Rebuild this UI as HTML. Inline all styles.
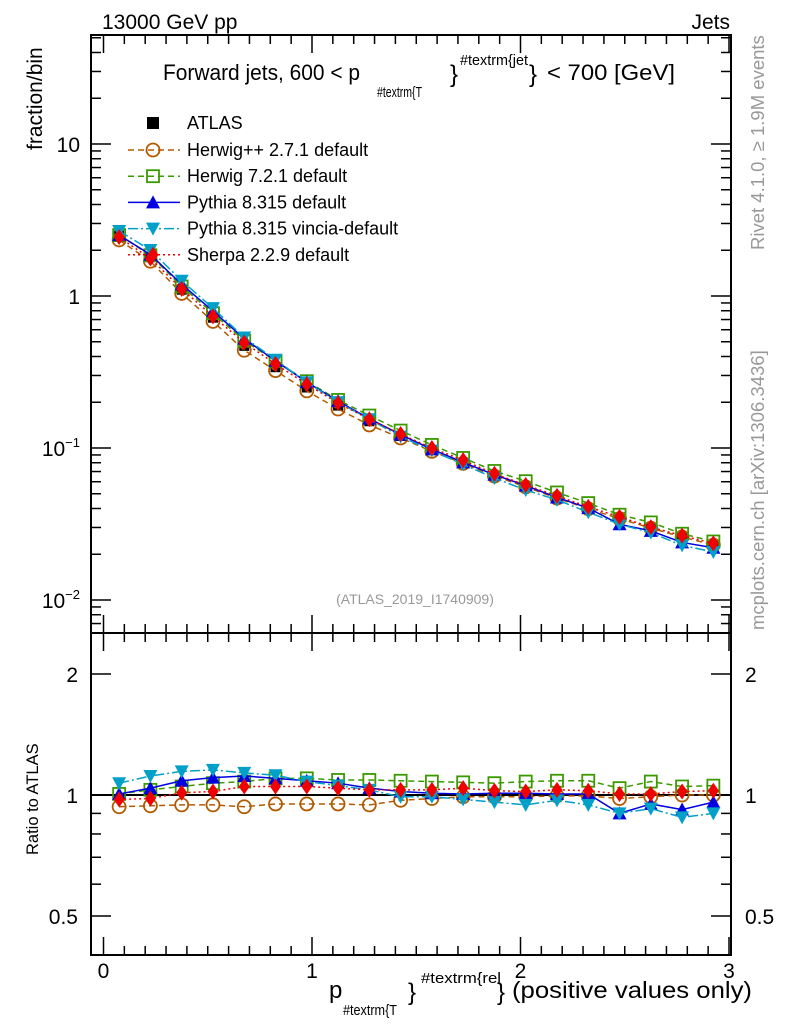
<!DOCTYPE html>
<html><head><meta charset="utf-8">
<style>
body{margin:0;background:#fff;}
svg{display:block;font-family:"Liberation Sans",sans-serif;}
</style></head>
<body>
<svg id="chart" width="786" height="1024" viewBox="0 0 786 1024" xmlns="http://www.w3.org/2000/svg">
<g id="g"></g>
</svg>
<script>
const xCenters=[0.075,0.225,0.375,0.525,0.675,0.825,0.975,1.125,1.275,1.425,1.575,1.725,1.875,2.025,2.175,2.325,2.475,2.625,2.775,2.925];
const atlasVals=[2.5,1.8,1.1,0.72,0.47,0.34,0.25,0.19,0.15,0.12,0.097,0.08,0.066,0.056,0.047,0.040,0.035,0.030,0.026,0.023];
const herwigppRatio=[0.935,0.94,0.945,0.945,0.935,0.95,0.95,0.95,0.945,0.97,0.98,0.99,0.99,0.99,0.995,0.995,0.98,0.99,1.0,1.0];
const herwig7Ratio=[1.006,1.03,1.05,1.07,1.08,1.10,1.10,1.09,1.09,1.085,1.08,1.075,1.07,1.08,1.085,1.085,1.04,1.08,1.05,1.055];
const pythiaRatio=[1.006,1.04,1.085,1.105,1.115,1.10,1.085,1.07,1.04,1.02,1.01,1.006,1.01,1.01,1.006,1.006,0.90,0.95,0.92,0.96];
const vinciaRatio=[1.07,1.115,1.145,1.155,1.135,1.12,1.08,1.055,1.03,0.99,0.99,0.975,0.96,0.945,0.97,0.945,0.90,0.925,0.88,0.90];
const sherpaRatio=[0.975,0.98,1.013,1.02,1.05,1.05,1.05,1.04,1.03,1.03,1.03,1.04,1.025,1.02,1.03,1.025,1.006,1.006,1.02,1.025];
const xTicks=[0,1,2,3];
const yMainTicks=[10,1,0.1,0.01];
const yRatioTicks=[0.5,1,2];

const NS="http://www.w3.org/2000/svg";
const g=document.getElementById('g');
function el(t,a,parent){const e=document.createElementNS(NS,t);for(const k in a)e.setAttribute(k,a[k]);(parent||g).appendChild(e);return e;}
const L=91,R=731,MT=35,MB=633,RT=633,RB=955;
const X=v=>103.5+v*208.5;
const Y=v=>144-(Math.log10(v)-1)*152;
const YR=v=>795-Math.log10(v)*402;

let f=el('rect',{x:L,y:MT,width:R-L,height:MB-MT,fill:'none',stroke:'#000','stroke-width':2});

f=el('rect',{x:L,y:RT,width:R-L,height:RB-RT,fill:'none',stroke:'#000','stroke-width':2});


for(let v=0;v<=3.001;v+=0.1){
  const major=Math.abs(v-Math.round(v))<1e-6;const len=major?18:9;const x=X(v);
  for(const [y0,dir] of [[MB,-1],[MT,1],[RB,-1],[RT,1]]) el('line',{x1:x,x2:x,y1:y0,y2:y0+dir*len,stroke:'#000','stroke-width':1.5});
}
xTicks.forEach(v=>{const t=el('text',{x:X(v),y:978,'font-size':21,'text-anchor':'middle'});t.textContent=v;
});

for(let d=-3;d<=1;d++)for(let m=1;m<=9;m++){const v=m*Math.pow(10,d);const y=Y(v);if(y<MT||y>MB)continue;
  const len=m===1?20:10;
  el('line',{x1:L,x2:L+len,y1:y,y2:y,stroke:'#000','stroke-width':1.5});
  el('line',{x1:R,x2:R-len,y1:y,y2:y,stroke:'#000','stroke-width':1.5});}
const yl={10:'10',1:'1',0.1:'10<tspan font-size="13" dy="-9">−1</tspan>',0.01:'10<tspan font-size="13" dy="-9">−2</tspan>'};
yMainTicks.forEach(v=>{const t=el('text',{x:80,y:Y(v)+8,'font-size':21,'text-anchor':'end'});t.innerHTML=yl[v];
});
for(let d=-1;d<=0;d++)for(let m=1;m<=9;m++){const v=m*Math.pow(10,d);const y=YR(v);if(y<RT||y>RB)continue;
  const len=(v===0.5||v===1||v===2)?20:10;
  el('line',{x1:L,x2:L+len,y1:y,y2:y,stroke:'#000','stroke-width':1.5});
  el('line',{x1:R,x2:R-len,y1:y,y2:y,stroke:'#000','stroke-width':1.5});}
yRatioTicks.forEach(v=>{let t=el('text',{x:78,y:YR(v)+8,'font-size':21,'text-anchor':'end'});t.textContent=v;

t=el('text',{x:745,y:YR(v)+8,'font-size':21});t.textContent=v;
});
el('line',{x1:L,x2:R,y1:YR(1),y2:YR(1),stroke:'#000','stroke-width':2});

function marker(type,x,y,c,parent){
  if(type==='sq')return el('rect',{x:x-5,y:y-5,width:10,height:10,fill:c},parent);
  if(type==='circ')return el('circle',{cx:x,cy:y,r:6.5,fill:'none',stroke:c,'stroke-width':1.8},parent);
  if(type==='osq')return el('rect',{x:x-6,y:y-6,width:12,height:12,fill:'none',stroke:c,'stroke-width':1.8},parent);
  if(type==='tri')return el('polygon',{points:`${x},${y-7} ${x-7},${y+6} ${x+7},${y+6}`,fill:c},parent);
  if(type==='itri')return el('polygon',{points:`${x},${y+7} ${x-7},${y-6} ${x+7},${y-6}`,fill:c},parent);
  if(type==='dia')return el('polygon',{points:`${x},${y-8} ${x-5.5},${y} ${x},${y+8} ${x+5.5},${y}`,fill:c},parent);
}
const ga=el('g',{});
xCenters.forEach((x,i)=>{const m=marker('sq',X(x),Y(atlasVals[i]),'#000',ga);});
const series=[
 {name:'herwigpp',label:'Herwig++ 2.7.1 default',r:herwigppRatio,c:'#b35a00',m:'circ',dash:'6,4'},
 {name:'herwig7',label:'Herwig 7.2.1 default',r:herwig7Ratio,c:'#3a9a00',m:'osq',dash:'6,4'},
 {name:'pythia',label:'Pythia 8.315 default',r:pythiaRatio,c:'#0000e0',m:'tri',dash:''},
 {name:'vincia',label:'Pythia 8.315 vincia-default',r:vinciaRatio,c:'#00a0c8',m:'itri',dash:'10,3,2,3'},
 {name:'sherpa',label:'Sherpa 2.2.9 default',r:sherpaRatio,c:'#f00000',m:'dia',dash:'2,3'}];
series.forEach(s=>{
  const gm=el('g',{});
  const gr=el('g',{});
  const pm=xCenters.map((x,i)=>X(x)+','+Y(atlasVals[i]*s.r[i])).join(' ');
  const pr=xCenters.map((x,i)=>X(x)+','+YR(s.r[i])).join(' ');
  el('polyline',{points:pm,fill:'none',stroke:s.c,'stroke-width':1.5,'stroke-dasharray':s.dash},gm);
  el('polyline',{points:pr,fill:'none',stroke:s.c,'stroke-width':1.5,'stroke-dasharray':s.dash},gr);
  xCenters.forEach((x,i)=>{
    const a=marker(s.m,X(x),Y(atlasVals[i]*s.r[i]),s.c,gm);
    const b=marker(s.m,X(x),YR(s.r[i]),s.c,gr);
  });
});

const lg=el('g',{});
let t=el('text',{x:187,y:129,'font-size':18},lg);t.textContent='ATLAS';
el('rect',{x:147,y:117,width:12,height:12,fill:'#000'},lg);
series.forEach((s,i)=>{const y=150+i*26.2;
  el('line',{x1:128,x2:180,y1:y,y2:y,stroke:s.c,'stroke-width':1.5,'stroke-dasharray':s.dash},lg);
  marker(s.m,153,y,s.c,lg);
  const tt=el('text',{x:187,y:y+6,'font-size':18},lg);tt.textContent=s.label;
  });
</script>
<svg style="position:absolute;left:0;top:0" width="786" height="1024" font-family="Liberation Sans,sans-serif">
<text x="102" y="29" font-size="21">13000 GeV pp</text>
<text x="730" y="29" font-size="21" text-anchor="end">Jets</text>
<g>
<text x="163" y="80" font-size="22.5" textLength="197" lengthAdjust="spacingAndGlyphs">Forward jets, 600 &lt; p</text>
<text x="377" y="97" font-size="14.5" textLength="45" lengthAdjust="spacingAndGlyphs">#textrm{T</text>
<text x="450" y="82" font-size="24">}</text>
<text x="460" y="65" font-size="14.5" textLength="68" lengthAdjust="spacingAndGlyphs">#textrm{jet</text>
<text x="529" y="82" font-size="24">}</text>
<text x="547" y="80" font-size="22.5" textLength="128" lengthAdjust="spacingAndGlyphs">&lt; 700 [GeV]</text>
</g>
<text transform="translate(42,150) rotate(-90)" font-size="21">fraction/bin</text>
<text transform="translate(38,855) rotate(-90)" font-size="16.5">Ratio to ATLAS</text>
<g>
<text x="329" y="998" font-size="24">p</text>
<text x="343" y="1015" font-size="15" textLength="54" lengthAdjust="spacingAndGlyphs">#textrm{T</text>
<text x="408" y="1000" font-size="24">}</text>
<text x="421" y="983" font-size="15" textLength="80" lengthAdjust="spacingAndGlyphs">#textrm{rel</text>
<text x="497" y="1000" font-size="24">}</text>
<text x="512" y="998" font-size="23" textLength="240" lengthAdjust="spacingAndGlyphs">(positive values only)</text>
</g>
<text x="415" y="604" font-size="14" fill="#999" text-anchor="middle">(ATLAS_2019_I1740909)</text>
<text transform="translate(764,250) rotate(-90)" font-size="18.5" fill="#999">Rivet 4.1.0, ≥ 1.9M events</text>
<text transform="translate(764,630) rotate(-90)" font-size="18.5" fill="#999">mcplots.cern.ch [arXiv:1306.3436]</text>
</svg>
</body></html>
